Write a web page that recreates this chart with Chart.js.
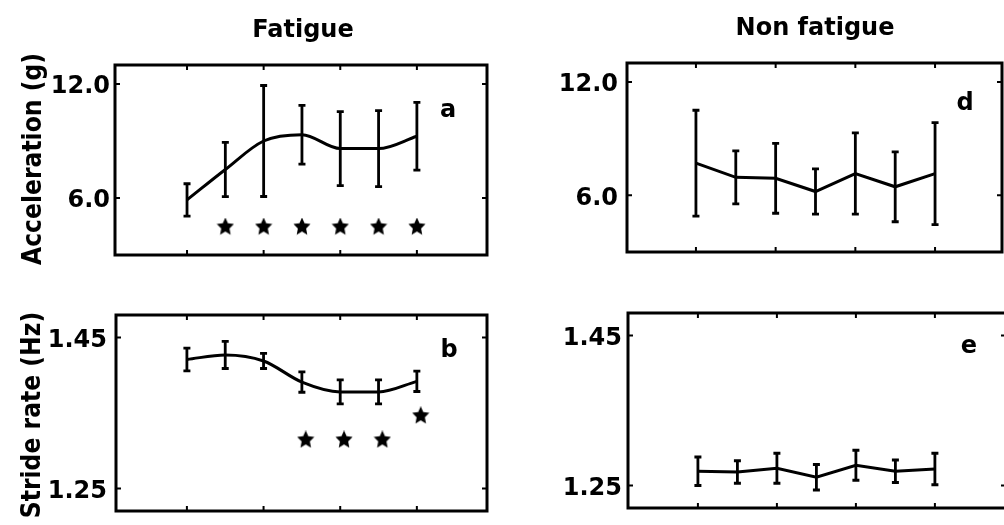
<!DOCTYPE html>
<html>
<head>
<meta charset="utf-8">
<script src="https://cdn.jsdelivr.net/npm/chart.js@4.4.1/dist/chart.umd.min.js"></script>
<style>
  html, body { margin: 0; padding: 0; background: #fff; overflow: hidden; }
  #wrap { position: relative; width: 1004px; height: 525px; overflow: hidden; background: #fff; }
  canvas { position: absolute; }
</style>
</head>
<body>
<div id="wrap">
  <canvas id="accFatigue" width="500" height="270" style="left:0;top:0"></canvas>
  <canvas id="accNonFatigue" width="520" height="270" style="left:500px;top:0"></canvas>
  <canvas id="strideFatigue" width="500" height="255" style="left:0;top:270px"></canvas>
  <canvas id="strideNonFatigue" width="520" height="255" style="left:500px;top:270px"></canvas>
</div>
<script>
// stages along the run and the marks on the frame
const stages = [1, 2, 3, 4, 5, 6, 7];
const stageTicks = [1, 3, 5, 7];
const accTicks = [6.0, 12.0];
const strideTicks = [1.25, 1.45];

// peak acceleration (g), mean and SD
const accFatigueMean = [5.9, 7.5, 9.0, 9.33, 8.6, 8.6, 9.25];
const accFatigueSd = [0.85, 1.43, 2.92, 1.55, 1.95, 2.0, 1.78];
const accNonFatigueMean = [7.7, 6.95, 6.9, 6.2, 7.15, 6.45, 7.15];
const accNonFatigueSd = [2.8, 1.4, 1.85, 1.2, 2.15, 1.85, 2.7];

// stride rate (Hz), mean and SD
const strideFatigueMean = [1.421, 1.427, 1.419, 1.391, 1.378, 1.378, 1.392];
const strideFatigueSd = [0.015, 0.018, 0.01, 0.0135, 0.016, 0.016, 0.0135];
const strideNonFatigueMean = [1.269, 1.268, 1.273, 1.261, 1.277, 1.269, 1.272];
const strideNonFatigueSd = [0.019, 0.015, 0.02, 0.017, 0.02, 0.015, 0.021];

// significance markers
const accStarX = [2, 3, 4, 5, 6, 7];
const accStarY = [4.5, 4.5, 4.5, 4.5, 4.5, 4.5];
const strideStarX = [4.1, 5.1, 6.1, 7.1];
const strideStarY = [1.315, 1.315, 1.315, 1.347];

const FONT = '"DejaVu Sans", "Liberation Sans", sans-serif';

// filled five-point star used as point style
function starImage(size) {
  const cv = document.createElement('canvas');
  cv.width = size; cv.height = size;
  const g = cv.getContext('2d');
  const r = size / 2, ri = r * 0.48;
  g.beginPath();
  for (let k = 0; k < 10; k++) {
    const ang = -Math.PI / 2 + k * Math.PI / 5;
    const rr = k % 2 ? ri : r;
    g.lineTo(r + rr * Math.cos(ang), r + rr * 1.05 * Math.sin(ang) + 0.5);
  }
  g.closePath();
  g.fillStyle = '#000';
  g.fill();
  return cv;
}
const star = starImage(18);

// error bars, box, inward ticks and labels
function decoPlugin(o) {
  return {
    id: 'deco',
    afterDatasetsDraw(chart) {
      const c = chart.ctx, a = chart.chartArea;
      const xs = chart.scales.x, ys = chart.scales.y;
      c.save();
      c.strokeStyle = '#000';
      c.fillStyle = '#000';

      c.lineWidth = 2.8;
      o.mean.forEach((m, i) => {
        const x = xs.getPixelForValue(stages[i]);
        const t = ys.getPixelForValue(m + o.sd[i]);
        const b = ys.getPixelForValue(m - o.sd[i]);
        c.beginPath();
        c.moveTo(x, t); c.lineTo(x, b);
        c.moveTo(x - 3.5, t); c.lineTo(x + 3.5, t);
        c.moveTo(x - 3.5, b); c.lineTo(x + 3.5, b);
        c.stroke();
      });

      c.lineWidth = 3;
      c.strokeRect(a.left, a.top, a.right - a.left, a.bottom - a.top);

      c.lineWidth = 2;
      c.beginPath();
      stageTicks.forEach(v => {
        const x = xs.getPixelForValue(v);
        c.moveTo(x, a.top); c.lineTo(x, a.top + 5);
        c.moveTo(x, a.bottom); c.lineTo(x, a.bottom - 5);
      });
      o.yTicks.forEach(v => {
        const y = ys.getPixelForValue(v);
        c.moveTo(a.left, y); c.lineTo(a.left + 5, y);
        c.moveTo(a.right, y); c.lineTo(a.right - 5, y);
      });
      c.stroke();

      c.textAlign = 'center';
      c.textBaseline = 'alphabetic';
      c.font = 'bold 24px ' + FONT;
      if (o.title) c.fillText(o.title[0], o.title[1], o.title[2]);
      c.fillText(o.letter[0], o.letter[1], o.letter[2]);
      if (o.yTitle) {
        c.save();
        c.translate(o.yTitle[1], o.yTitle[2]);
        c.scale(1.15, 1);
        c.rotate(-Math.PI / 2);
        c.font = 'bold 23.5px ' + FONT;
        c.textBaseline = 'middle';
        c.fillText(o.yTitle[0], 0, 0);
        c.restore();
      }
      c.restore();
    }
  };
}

function makePanel(id, o) {
  const cv = document.getElementById(id);
  return new Chart(cv.getContext('2d'), {
    type: 'line',
    data: {
      datasets: [
        {
          data: o.mean.map((v, i) => ({ x: stages[i], y: v })),
          borderColor: '#000',
          borderWidth: 3,
          pointRadius: 0,
          fill: false,
          cubicInterpolationMode: o.smooth ? 'monotone' : 'default',
          tension: 0
        },
        {
          data: o.starX.map((v, i) => ({ x: v, y: o.starY[i] })),
          showLine: false,
          pointStyle: star,
          pointRadius: 9
        }
      ]
    },
    options: {
      responsive: false,
      animation: false,
      events: [],
      layout: {
        padding: { left: 0, top: o.area[1], right: cv.width - o.area[2], bottom: cv.height - o.area[3] }
      },
      plugins: { legend: { display: false }, tooltip: { enabled: false } },
      scales: {
        x: { type: 'linear', min: o.xr[0], max: o.xr[1], display: false },
        y: {
          min: o.yr[0], max: o.yr[1],
          afterBuildTicks: s => { s.ticks = o.yTicks.map(v => ({ value: v })); },
          afterFit: s => {
            s.width = o.area[0];
            s.paddingTop = 0;
            s.paddingBottom = 0;
          },
          grid: { display: false, drawTicks: false },
          border: { display: false },
          ticks: {
            padding: o.pad,
            labelOffset: 3,
            color: '#000',
            font: { family: FONT, size: 24, weight: 'bold' },
            callback: v => v.toFixed(o.dec)
          }
        }
      }
    },
    plugins: [decoPlugin(o)]
  });
}

makePanel('accFatigue', {
  mean: accFatigueMean, sd: accFatigueSd, smooth: true,
  starX: accStarX, starY: accStarY,
  area: [115, 65, 487, 255], xr: [-0.88, 8.83], yr: [3, 13],
  yTicks: accTicks, dec: 1, pad: 5,
  title: ['Fatigue', 303, 37], letter: ['a', 448, 117], yTitle: ['Acceleration (g)', 34, 159]
});

makePanel('accNonFatigue', {
  mean: accNonFatigueMean, sd: accNonFatigueSd, smooth: false,
  starX: [], starY: [],
  area: [127, 63, 502, 252], xr: [-0.73, 8.68], yr: [3, 13],
  yTicks: accTicks, dec: 1, pad: 9,
  title: ['Non fatigue', 315, 35], letter: ['d', 465, 110]
});

makePanel('strideFatigue', {
  mean: strideFatigueMean, sd: strideFatigueSd, smooth: true,
  starX: strideStarX, starY: strideStarY,
  area: [116, 45, 487, 241], xr: [-0.85, 8.83], yr: [1.22, 1.48],
  yTicks: strideTicks, dec: 2, pad: 9,
  letter: ['b', 449, 87], yTitle: ['Stride rate (Hz)', 33, 145]
});

makePanel('strideNonFatigue', {
  mean: strideNonFatigueMean, sd: strideNonFatigueSd, smooth: false,
  starX: [], starY: [],
  area: [128, 43, 506, 238], xr: [-0.77, 8.8], yr: [1.22, 1.48],
  yTicks: strideTicks, dec: 2, pad: 6,
  letter: ['e', 469, 83]
});
</script>
</body>
</html>
